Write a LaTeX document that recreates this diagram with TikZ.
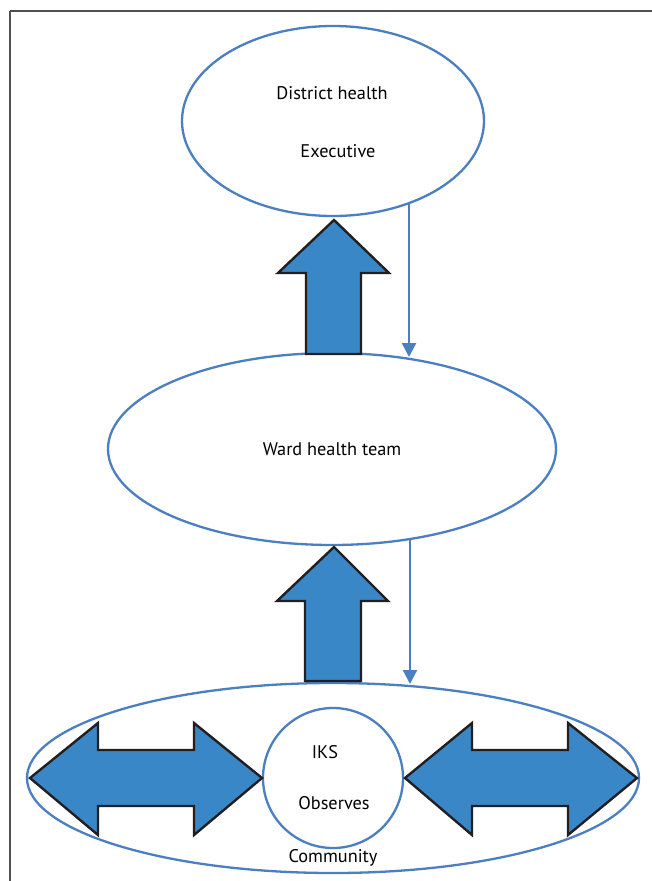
\documentclass[tikz,border=0pt]{standalone}
\usepackage{fontspec}
\setmainfont{PT Sans}
\usetikzlibrary{arrows.meta,shapes.geometric}
\definecolor{lineblue}{RGB}{74,127,193}
\definecolor{fillblue}{RGB}{58,135,200}
\definecolor{outl}{RGB}{35,31,32}
\definecolor{framegray}{RGB}{80,80,80}
\tikzset{
  oval/.style={draw=lineblue,line width=2.3pt,ellipse,inner sep=0pt,fill=white},
  blockarrow/.style={fill=fillblue,draw=outl,line width=2.4pt,line join=miter},
  thinarrow/.style={draw=lineblue,line width=2.2pt,-{Triangle[length=14pt,width=14pt]}},
  lbl/.style={font=\fontsize{18.3}{21}\selectfont,text=black}
}
\begin{document}
\begin{tikzpicture}[x=1pt,y=-1pt]
\useasboundingbox (0,0) rectangle (651,881);
\fill[white] (0,0) rectangle (651,881);
\draw[framegray,line width=1.4pt] (10,11) -- (660,11) (10,11) -- (10,890);
% ellipses
\node[oval,minimum width=302pt,minimum height=190pt] (dhe) at (333,121) {};
\node[lbl] (t1) at (332,93) {District health};
\node[lbl] (t2) at (338,151) {Executive};
\node[oval,minimum width=448pt,minimum height=192pt] (wht) at (332,449) {};
\node[lbl] (t3) at (332,449) {Ward health team};
\node[oval,minimum width=612pt,minimum height=190pt] (com) at (333,778) {};
\node[lbl] at (333,858) {Community};
% block arrows up
\draw[blockarrow] (334,220) -- (389,273) -- (361,273) -- (361,354) -- (306,354) -- (306,273) -- (278,273) -- cycle;
\draw[blockarrow] (334,547) -- (388,601) -- (361,601) -- (361,681) -- (305,681) -- (305,601) -- (277,601) -- cycle;
% thin arrows down
\coordinate (a1s) at (409,204);
\coordinate (a1e) at (409,357);
\coordinate (a2s) at (410,540);
\coordinate (a2e) at (410,684);
\draw[thinarrow] (a1s) -- (a1e);
\draw[thinarrow] (a2s) -- (a2e);
% circle
\node[draw=lineblue,line width=2.3pt,circle,minimum size=140pt,inner sep=0pt,fill=white] (iks) at (333,778) {};
\node[lbl] at (325,752) {IKS};
\node[lbl] at (334,803) {Observes};
% double arrows
\draw[blockarrow] (30,778) -- (98,723) -- (98,750) -- (194,750) -- (194,723) -- (262,778) -- (194,835) -- (194,806) -- (98,806) -- (98,835) -- cycle;
\draw[blockarrow] (405,778) -- (472,723) -- (472,750) -- (568,750) -- (568,723) -- (637,778) -- (568,835) -- (568,806) -- (472,806) -- (472,835) -- cycle;
\end{tikzpicture}
\end{document}
